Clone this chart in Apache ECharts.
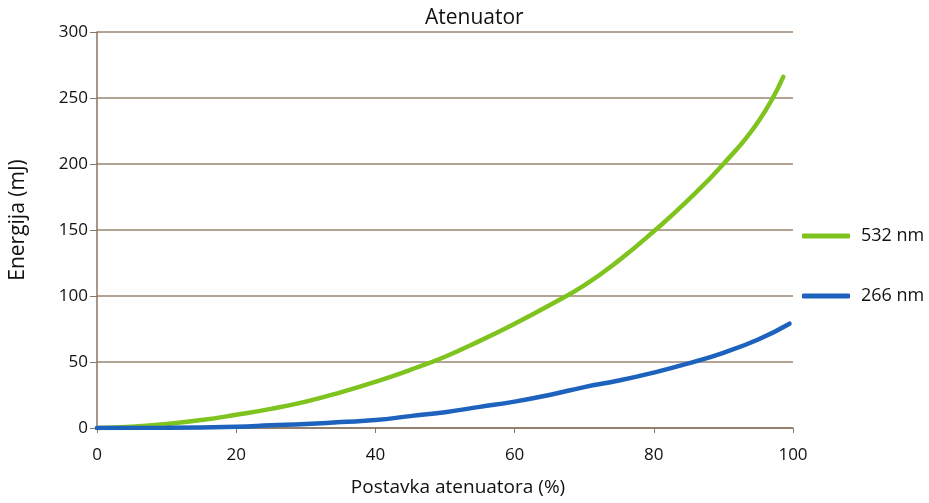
<!DOCTYPE html>
<html><head><meta charset="utf-8">
<script src="https://cdn.jsdelivr.net/npm/echarts@6/dist/echarts.min.js"></script>
<style>html,body{margin:0;padding:0;background:#fff}#c{width:929px;height:503px}</style>
</head><body><div id="c"></div>
<script>
var xTicks = [0, 20, 40, 60, 80, 100];
var yTicks = [0, 50, 100, 150, 200, 250, 300];
var s532 = [[0,0],[5,1],[10,3],[15,6],[20,10],[25,14.5],[30,20],[35,27],[40,35],[45,44],[50,54],[55,66],[60,79],[65,93],[70,108],[75,127],[80,149],[85,173],[90,200],[95,232],[98.6,266]];
var s266 = [[0,0],[10,0.2],[20,1],[25,2],[30,3],[35,4.5],[40,6],[45,9],[50,12],[55,16],[60,20],[65,25],[70,31],[75,36],[80,42],[85,49],[90,57],[95,67],[99.5,79]];
var names = ['532 nm', '266 nm'];
var colors = ['#7fc31f', '#1d63bd'];
var ff = '"Open Sans", "Noto Sans", sans-serif';
var axisCol = '#8a7560';
var chart = echarts.init(document.getElementById('c'));
chart.setOption({
  animation: false,
  title: {text: 'Atenuator', left: 420, top: 3, textStyle: {fontFamily: ff, fontSize: 21, fontWeight: 'normal', color: '#111'}},
  grid: {left: 97, right: 136, top: 32, bottom: 75},
  legend: {
    orient: 'vertical', left: 797, top: 222, itemGap: 42, itemWidth: 48, itemHeight: 5,
    icon: 'roundRect',
    textStyle: {fontFamily: ff, fontSize: 18, color: '#111', padding: [0,0,0,6]},
    data: names
  },
  xAxis: {
    type: 'value', min: 0, max: 100, interval: 20,
    name: 'Postavka atenuatora (%)', nameLocation: 'middle', nameGap: 50,
    nameTextStyle: {fontFamily: ff, fontSize: 19, color: '#111', padding: [0,0,0,26]},
    axisLine: {lineStyle: {color: axisCol, width: 1.5}},
    axisTick: {show: true, length: 5, lineStyle: {color: axisCol}},
    axisLabel: {fontFamily: ff, fontSize: 17, color: '#111', margin: 19},
    splitLine: {show: false}
  },
  yAxis: {
    type: 'value', min: 0, max: 300, interval: 50,
    name: 'Energija (mJ)', nameLocation: 'middle', nameGap: 68,
    nameTextStyle: {fontFamily: ff, fontSize: 21, color: '#111', padding: [0,0,0,20]},
    axisLine: {show: true, lineStyle: {color: axisCol, width: 1.5}},
    axisTick: {show: true, length: 7, lineStyle: {color: axisCol}},
    axisLabel: {fontFamily: ff, fontSize: 17, color: '#111', margin: 9},
    splitLine: {show: true, lineStyle: {color: '#9a8672', width: 1.5}}
  },
  series: [
    {name: names[0], type: 'line', data: s532, smooth: true, showSymbol: false, symbol: 'none',
     lineStyle: {color: colors[0], width: 4.5, cap: 'round'}, itemStyle: {color: colors[0]}},
    {name: names[1], type: 'line', data: s266, smooth: true, showSymbol: false, symbol: 'none',
     lineStyle: {color: colors[1], width: 4.5, cap: 'round'}, itemStyle: {color: colors[1]}}
  ]
});
</script></body></html>
